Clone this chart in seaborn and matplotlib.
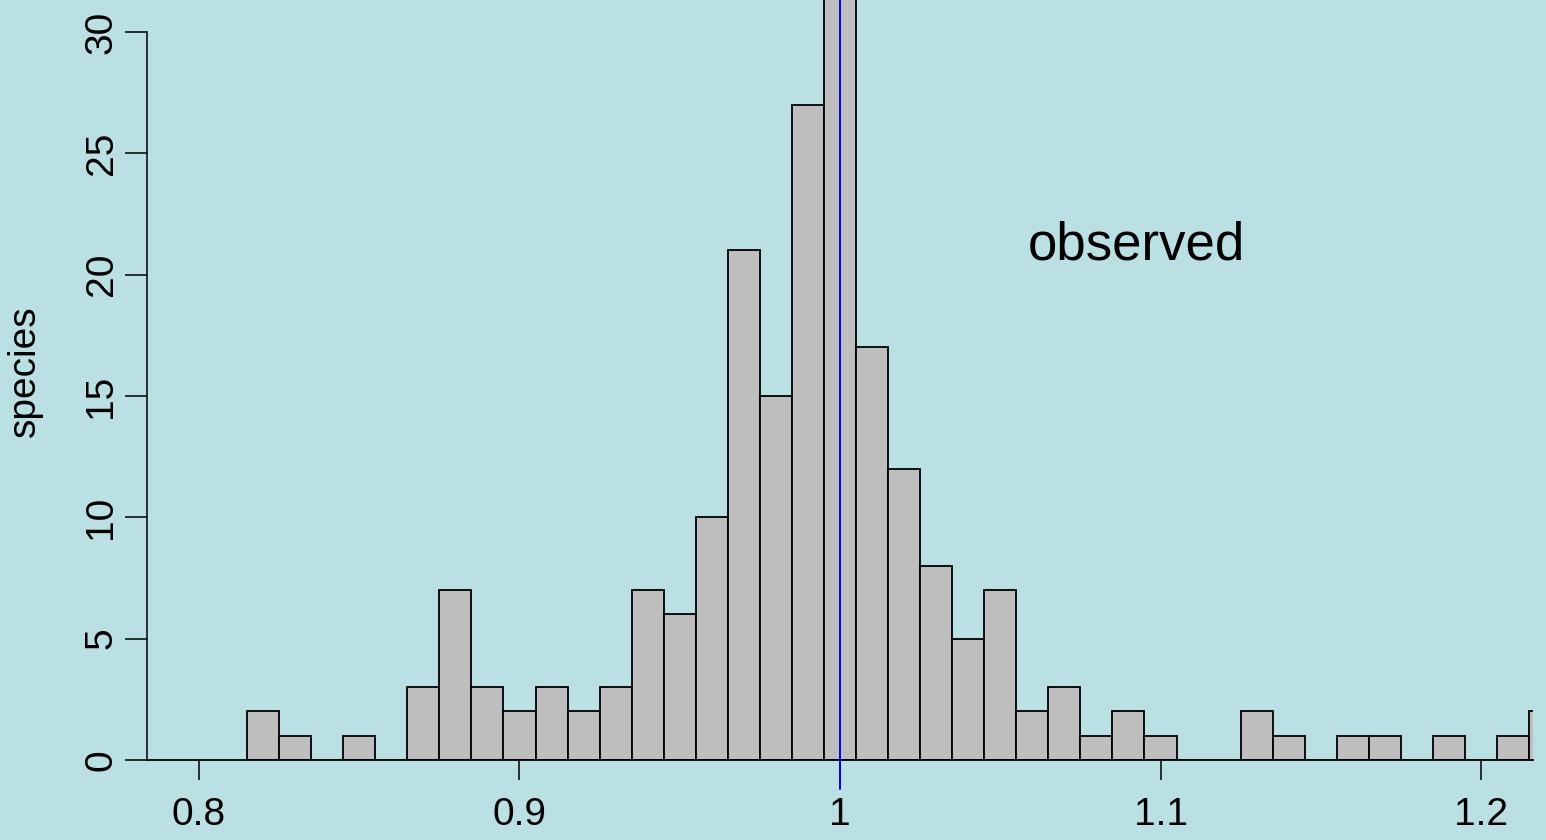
import matplotlib
matplotlib.use("Agg")
import matplotlib.pyplot as plt
import seaborn as sns
import numpy as np
import pandas as pd

# bin centres (width 0.01) and species counts per bin
bin_centers = [0.82, 0.83, 0.84, 0.85, 0.86, 0.87, 0.88, 0.89, 0.90, 0.91,
               0.92, 0.93, 0.94, 0.95, 0.96, 0.97, 0.98, 0.99, 1.00, 1.01,
               1.02, 1.03, 1.04, 1.05, 1.06, 1.07, 1.08, 1.09, 1.10, 1.11,
               1.12, 1.13, 1.14, 1.15, 1.16, 1.17, 1.18, 1.19, 1.20, 1.21,
               1.22]
counts = [2, 1, 0, 1, 0, 3, 7, 3, 2, 3,
          2, 3, 7, 6, 10, 21, 15, 27, 34, 17,
          12, 8, 5, 7, 2, 3, 1, 2, 1, 0,
          0, 2, 1, 0, 1, 1, 0, 1, 0, 1,
          2]
x_ticks = [0.8, 0.9, 1.0, 1.1, 1.2]
x_tick_labels = ["0.8", "0.9", "1", "1.1", "1.2"]
y_ticks = [0, 5, 10, 15, 20, 25, 30]
annotation = "observed"
y_label = "species"
ref_value = 1.0

bg = "#BBE0E3"
sns.set_style("ticks")
plt.rcParams["font.family"] = ["Liberation Sans", "DejaVu Sans"]
plt.rcParams["text.color"] = "black"
plt.rcParams["axes.labelcolor"] = "black"

df = pd.DataFrame({"ratio": bin_centers, "n": counts})

fig = plt.figure(figsize=(15.46, 8.4), dpi=100, facecolor=bg)
ax = fig.add_axes([147 / 1546, 80 / 840, (1533 - 147) / 1546, 760 / 840])
ax.set_facecolor(bg)

sns.histplot(data=df, x="ratio", weights="n", binwidth=0.01,
             binrange=(0.815, 1.225), color="#BEBEBE", edgecolor="black",
             linewidth=1.3, alpha=1, ax=ax)

ax.set_xlim(0.78378, 1.21622)
ax.set_ylim(0, 31.32)

ax.set_xticks(x_ticks)
ax.set_xticklabels(x_tick_labels)
ax.set_yticks(y_ticks)
ax.set_yticklabels([str(v) for v in y_ticks], rotation=90, va="center")

ax.tick_params(axis="x", length=14.4, width=1.1, pad=12, labelsize=28,
               colors="black", labelcolor="black")
ax.tick_params(axis="y", length=15.8, width=1.1, pad=4, labelsize=28,
               colors="black", labelcolor="black")

for s in ["top", "right"]:
    ax.spines[s].set_visible(False)
ax.spines["left"].set_bounds(0, 30)
ax.spines["left"].set_linewidth(1.1)
ax.spines["bottom"].set_linewidth(1.3)
ax.spines["left"].set_color("black")
ax.spines["bottom"].set_color("black")

# reference line, extending slightly below the axis like the original
ax.axvline(ref_value, ymin=-29 / 760, ymax=1, color="blue", lw=1.4,
           clip_on=False, zorder=5)

ax.set_xlabel("")
ax.set_ylabel("")
fig.text(25 / 1546, 1 - 371 / 840, y_label, rotation=90, ha="center", va="center",
         fontsize=28, color="black")

ax.text(1.0924, 20.64, annotation, ha="center", va="baseline", fontsize=38,
        color="black")

fig.savefig("out.png", dpi=100, facecolor=bg)
